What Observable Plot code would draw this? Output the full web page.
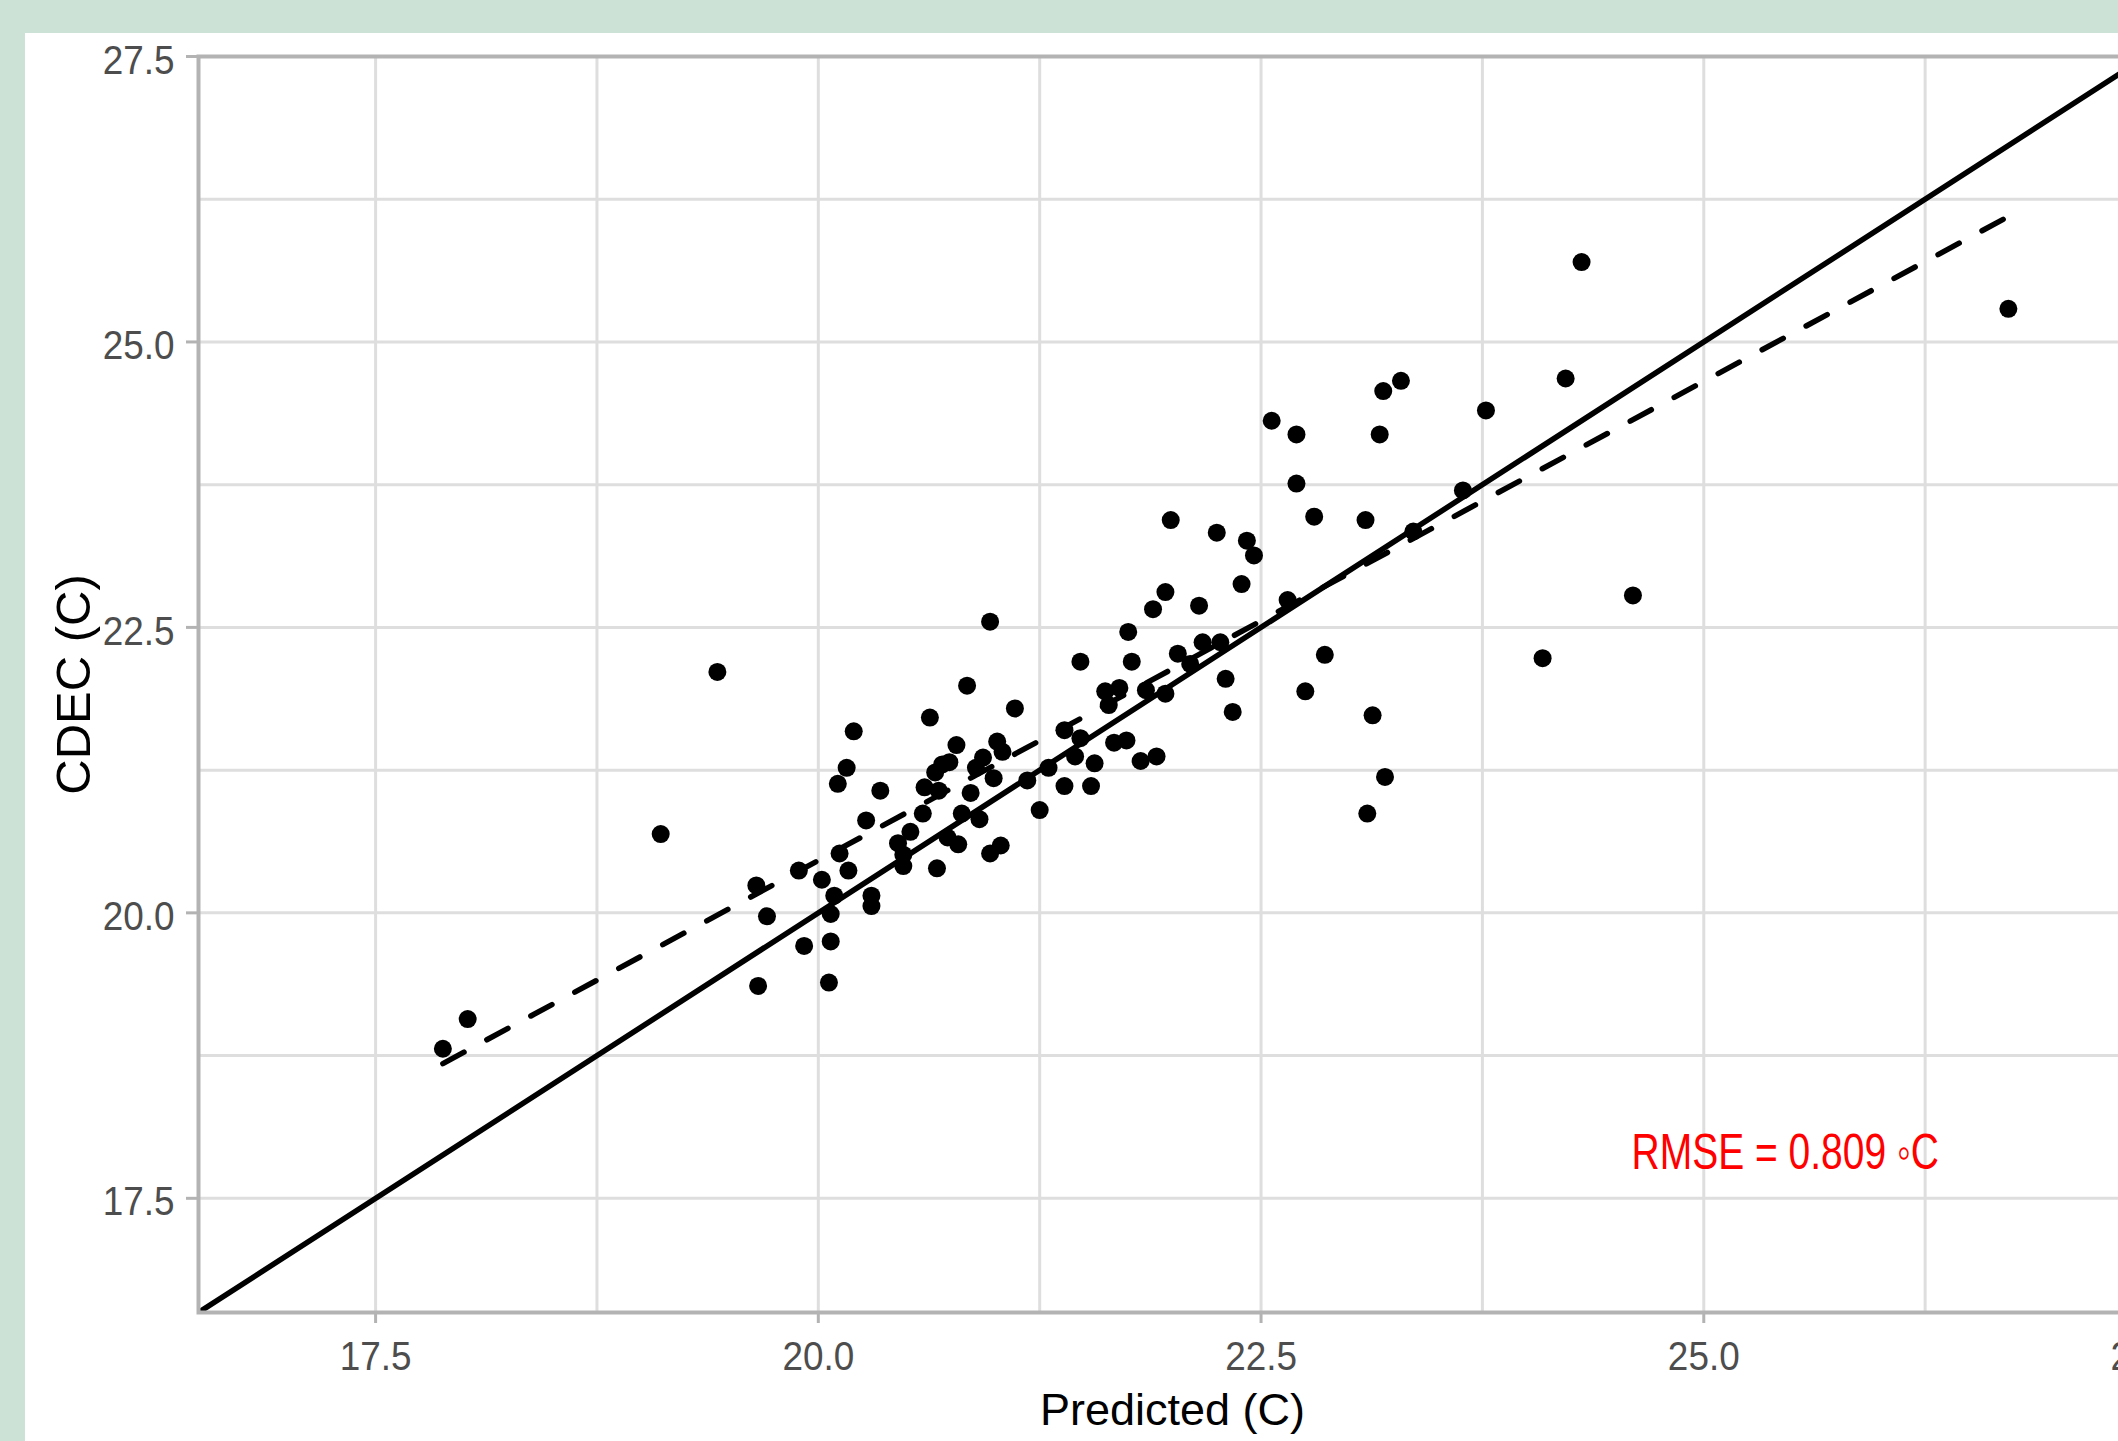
<!DOCTYPE html>
<html>
<head>
<meta charset="utf-8">
<script src="https://cdn.jsdelivr.net/npm/d3@7"></script>
<script src="https://cdn.jsdelivr.net/npm/@observablehq/plot@0.6"></script>
<style>
  html, body { margin: 0; padding: 0; overflow: hidden; width: 2118px; height: 1441px; background: #cde2d6; }
  #panel { position: absolute; left: 25px; top: 33px; right: 0; bottom: 0; background: #ffffff; }
  #chart { position: absolute; left: 0; top: 0; }
</style>
</head>
<body>
<div id="panel"></div>
<div id="chart"></div>
<script>
// ---- data ----
const predicted = [
  17.88, 18.02, 19.11, 19.43, 19.65, 19.66, 19.71, 19.89, 19.92, 20.02,
  20.06, 20.07, 20.07, 20.09, 20.11, 20.12, 20.16, 20.17, 20.20, 20.27,
  20.30, 20.30, 20.35, 20.48, 20.45, 20.48, 20.52, 20.60, 20.59, 20.63,
  20.67, 20.66, 20.68, 20.70, 20.73, 20.74, 20.78, 20.81, 20.79, 20.84,
  20.86, 20.91, 20.89, 20.93, 20.97, 20.97, 20.99, 21.01, 21.03, 21.04,
  21.11, 21.18, 21.25, 21.30, 21.39, 21.39, 21.45, 21.48, 21.48, 21.54,
  21.56, 21.62, 21.64, 21.67, 21.70, 21.75, 21.77, 21.82, 21.85, 21.89,
  21.91, 21.96, 21.96, 21.99, 22.03, 22.15, 22.17, 22.25, 22.27, 22.30,
  22.34, 22.39, 22.42, 22.46, 22.56, 22.65, 22.70, 22.70, 22.75, 22.80,
  22.86, 23.09, 23.10, 23.13, 23.17, 23.19, 23.20, 23.29, 23.36, 23.64,
  23.77, 24.09, 24.22, 24.31, 24.60, 26.72, 22.10, 21.74
];
const cdec = [
  18.81, 19.07, 20.69, 22.11, 20.24, 19.36, 19.97, 20.37, 19.71, 20.29,
  19.39, 19.75, 19.99, 20.15, 21.13, 20.52, 21.27, 20.37, 21.59, 20.81,
  20.15, 20.06, 21.07, 20.41, 20.61, 20.51, 20.71, 21.10, 20.87, 21.71,
  20.39, 21.23, 21.07, 21.30, 20.66, 21.32, 21.47, 20.87, 20.60, 21.99,
  21.05, 20.82, 21.27, 21.36, 22.55, 20.52, 21.18, 21.50, 20.59, 21.41,
  21.79, 21.16, 20.90, 21.27, 21.11, 21.60, 21.37, 22.20, 21.53, 21.11,
  21.31, 21.94, 21.82, 21.49, 21.97, 22.46, 22.20, 21.33, 21.95, 22.66,
  21.37, 21.92, 22.81, 23.44, 22.27, 22.69, 22.37, 23.33, 22.37, 22.05,
  21.76, 22.88, 23.26, 23.13, 24.31, 22.74, 24.19, 23.76, 21.94, 23.47,
  22.26, 23.44, 20.87, 21.73, 24.19, 24.57, 21.19, 24.66, 23.34, 23.70,
  24.40, 22.23, 24.68, 25.70, 22.78, 25.29, 22.18, 21.51
];
// 1:1 reference line
const identityX = [16.5, 27.5];
const identityY = [16.5, 27.5];
// fitted (dashed) line endpoints
const fitX = [17.88, 26.71];
const fitY = [18.68, 26.09];
// axes
const xTicks = [17.5, 20.0, 22.5, 25.0, 27.5];
const yTicks = [17.5, 20.0, 22.5, 25.0, 27.5];
const gridBreaks = [17.5, 18.75, 20.0, 21.25, 22.5, 23.75, 25.0, 26.25, 27.5];
const xDomain = [16.5, 27.5];
const yDomain = [16.5, 27.5];
const xTitle = "Predicted (C)";
const yTitle = "CDEC (C)";
const rmseLabel = "RMSE = 0.809 \u25E6C";
const rmseX = 25.46;
const rmseY = 17.9;

// ---- build ----
const pts = predicted.map((p, i) => ({p, c: cdec[i]}));
const idLine = identityX.map((x, i) => ({x, y: identityY[i]}));
const fitLine = fitX.map((x, i) => ({x, y: fitY[i]}));
const fmt = d => d.toFixed(1);

const chart = Plot.plot({
  width: 2160,
  height: 1441,
  marginLeft: 198,
  marginRight: 14,
  marginTop: 56,
  marginBottom: 129,
  style: {background: "transparent", maxWidth: "none", overflow: "visible", fontFamily: "'Liberation Sans', Arial, sans-serif"},
  x: {domain: xDomain},
  y: {domain: yDomain},
  marks: [
    Plot.ruleX(gridBreaks, {stroke: "#dedede", strokeWidth: 3}),
    Plot.ruleY(gridBreaks, {stroke: "#dedede", strokeWidth: 3}),
    Plot.axisX({ticks: xTicks, tickFormat: fmt, tickSize: 11, tickPadding: 17, fontSize: 41,
      stroke: "#b3b3b3", strokeWidth: 3, fill: "#4d4d4d", label: null}),
    Plot.axisY({ticks: yTicks, tickFormat: fmt, tickSize: 12, tickPadding: 12, fontSize: 41,
      stroke: "#b3b3b3", strokeWidth: 3, fill: "#4d4d4d", label: null}),
    Plot.dot(pts, {x: "p", y: "c", r: 9, fill: "#000000", stroke: null}),
    Plot.line(idLine, {x: "x", y: "y", stroke: "#000000", strokeWidth: 5.5, clip: true}),
    Plot.line(fitLine, {x: "x", y: "y", stroke: "#000000", strokeWidth: 5.5, strokeDasharray: "24,26"}),
    Plot.frame({stroke: "#b3b3b3", strokeWidth: 4}),
    Plot.text([rmseLabel], {x: () => rmseX, y: () => rmseY, text: d => d, fill: "#ff0000", fontSize: 50,
      textAnchor: "middle", lineAnchor: "middle"}),
    Plot.text([xTitle], {frameAnchor: "bottom", text: d => d, dy: 112, lineAnchor: "bottom",
      textAnchor: "middle", fontSize: 45, fill: "#000000"}),
    Plot.text([yTitle], {frameAnchor: "left", text: d => d, rotate: -90, dx: -109, lineAnchor: "bottom",
      textAnchor: "middle", fontSize: 49, fill: "#000000"})
  ]
});
document.getElementById("chart").appendChild(chart);

// horizontally condense some labels to match the reference's narrow lettering
function squeeze(el, s, dy) {
  const xa = el.getAttribute("x");
  let t = el.getAttribute("transform") || "";
  if (xa != null && xa !== "" && !isNaN(+xa)) { t += ` translate(${+xa},0)`; el.removeAttribute("x"); }
  el.setAttribute("transform", `${t} translate(0,${dy || 0}) scale(${s},1)`.trim());
}
chart.querySelectorAll('g[aria-label="x-axis tick label"] text').forEach(t => squeeze(t, 0.9, 0));
chart.querySelectorAll('g[aria-label="y-axis tick label"] text').forEach(t => squeeze(t, 0.9, 4));
chart.querySelectorAll("text").forEach(t => { if (t.textContent.startsWith("RMSE")) squeeze(t, 0.78, 0); });
</script>
</body>
</html>
